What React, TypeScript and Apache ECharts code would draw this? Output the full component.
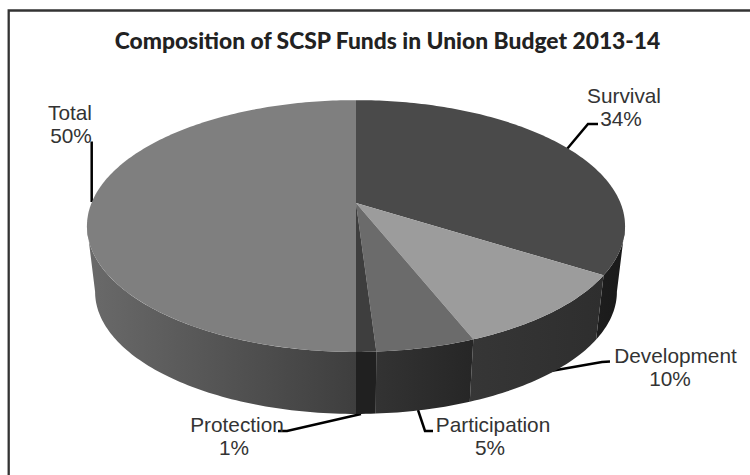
import React, { useEffect, useRef } from "react";
import * as echarts from "echarts";

const titleText = "Composition of SCSP Funds in Union Budget 2013-14";
const categories = ["Survival", "Development", "Participation", "Protection", "Total"];
const shares = [34, 10, 5, 1, 50];
const topColors = ["#4a4a4a", "#9c9c9c", "#6b6b6b", "#3e3e3e", "#7f7f7f"];
const wallStops = [
  ["#1d1d1d", "#1a1a1a"],
  ["#363636", "#2e2e2e"],
  ["#333333", "#262626"],
  ["#202020", "#202020"],
  ["#6a6a6a", "#3e3e3e"],
];

// Perspective model of the disc: both rims share a horizon factor and differ in scale and height.
const CX = 356;
const TILT = 0.183;
const topRim = { cy: 203, ax: 264.5, ay: 121.7 };
const lowRim = { cy: 269.5, ax: 256.5, ay: 118 };

// Turns at which the rim reaches its widest point; only the wall between them faces the viewer.
const WALL_START = Math.acos(-TILT) / (2 * Math.PI);
const WALL_END = 1 - WALL_START;

type Rim = typeof topRim;

function project(rim: Rim, turn: number): number[] {
  const a = turn * 2 * Math.PI;
  const u = Math.sin(a);
  const v = -Math.cos(a);
  const d = 1 - TILT * v;
  return [CX + (rim.ax * u) / d, rim.cy + (rim.ay * v) / d];
}

function arc(rim: Rim, from: number, to: number): number[][] {
  const steps = Math.max(2, Math.ceil((to - from) * 360));
  const pts: number[][] = [];
  for (let i = 0; i <= steps; i++) pts.push(project(rim, from + ((to - from) * i) / steps));
  return pts;
}

const total = shares.reduce((s, v) => s + v, 0);

function span(index: number): [number, number] {
  let start = 0;
  for (let i = 0; i < index; i++) start += shares[i];
  return [start / total, (start + shares[index]) / total];
}

function renderWall(params: any) {
  const i = params.dataIndex;
  const [start, end] = span(i);
  const from = Math.max(start, WALL_START);
  const to = Math.min(end, WALL_END);
  const upper = arc(topRim, from, to);
  const lower = arc(lowRim, from, to).reverse();
  const color = wallStops[i];
  return {
    type: "polygon",
    shape: { points: upper.concat(lower) },
    style: {
      fill: {
        type: "linear",
        x: 0,
        y: 0,
        x2: 1,
        y2: 0,
        colorStops: [
          { offset: 0, color: color[0] },
          { offset: 1, color: color[1] },
        ],
      },
    },
  };
}

function renderTop(params: any) {
  const i = params.dataIndex;
  const [from, to] = span(i);
  const apex = [CX, topRim.cy];
  return {
    type: "polygon",
    shape: { points: [apex].concat(arc(topRim, from, to)) },
    style: { fill: topColors[i] },
  };
}

const labelFont = { fontFamily: "Liberation Sans", fontSize: 20.8, fill: "#333333" };

function labelText(text: string, x: number, y: number) {
  return {
    type: "text",
    x,
    y,
    silent: true,
    style: { ...labelFont, text, align: "center", verticalAlign: "middle" },
  };
}

function leader(points: number[][]) {
  return {
    type: "polyline",
    silent: true,
    shape: { points },
    style: { stroke: "#000000", lineWidth: 2.5, fill: "none" },
  };
}

export default function App() {
  const ref = useRef<HTMLDivElement>(null);

  useEffect(() => {
    const chart = echarts.init(ref.current!, undefined, { renderer: "svg" });
    const idx = (name: string) => categories.indexOf(name);
    const pct = (name: string) => `${shares[idx(name)]}%`;
    chart.setOption({
      animation: false,
      backgroundColor: "#ffffff",
      title: {
        text: titleText,
        left: 382.5,
        top: 23,
        textAlign: "center",
        textStyle: { fontFamily: "Lato", fontWeight: 900, fontSize: 22.8, color: "#222222" },
      },
      series: [
        {
          type: "custom",
          coordinateSystem: "none",
          silent: true,
          data: shares.map((v) => [v]),
          renderItem: renderWall,
          z: 1,
        },
        {
          type: "custom",
          coordinateSystem: "none",
          silent: true,
          data: shares.map((v) => [v]),
          renderItem: renderTop,
          z: 2,
        },
      ],
      graphic: [
        {
          type: "polyline",
          silent: true,
          shape: { points: [[8.7, 475], [8.7, 10.5], [750, 10.5]] },
          style: { stroke: "#333333", lineWidth: 2.3, fill: "none" },
        },
        leader([[567, 149], [588, 124], [598, 124]]),
        leader([[91.7, 202], [91.7, 141.5]]),
        leader([[545, 372], [602, 362], [610, 361.5]]),
        leader([[418, 410], [425, 431], [433, 431]]),
        leader([[361, 414], [287, 431], [278, 431]]),
        labelText("Survival", 624, 95),
        labelText(pct("Survival"), 621, 118),
        labelText("Total", 70, 112),
        labelText(pct("Total"), 71, 135),
        labelText("Development", 675.5, 355),
        labelText(pct("Development"), 670, 378),
        labelText("Participation", 493, 424),
        labelText(pct("Participation"), 490, 447),
        labelText("Protection", 237, 424),
        labelText(pct("Protection"), 234, 447),
      ],
    });
    return () => chart.dispose();
  }, []);

  return <div ref={ref} style={{ position: "fixed", left: 0, top: 0, width: 750, height: 475 }} />;
}
